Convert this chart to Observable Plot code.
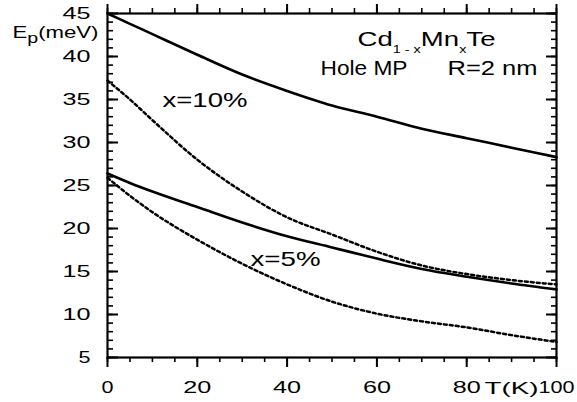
<!DOCTYPE html>
<html>
<head>
<meta charset="utf-8">
<script src="https://cdn.jsdelivr.net/npm/d3@7"></script>
<script src="https://cdn.jsdelivr.net/npm/@observablehq/plot@0.6"></script>
<style>
  html, body { margin: 0; padding: 0; background: #fff; overflow: hidden; }
</style>
</head>
<body>
<div id="chart"></div>
<script>
// Temperature (K)
const T = [0, 5, 10, 20, 30, 40, 50, 60, 70, 80, 90, 100];
// Ep (meV)
const solid10  = [45.0, 43.8, 42.6, 40.2, 37.9, 36.0, 34.3, 33.0, 31.6, 30.5, 29.4, 28.3];
const dotted10 = [37.2, 35.0, 32.6, 28.0, 24.3, 21.3, 19.3, 17.3, 15.7, 14.7, 14.0, 13.5];
const solid5   = [26.4, 25.3, 24.3, 22.5, 20.7, 19.1, 17.8, 16.5, 15.3, 14.4, 13.6, 12.9];
const dotted5  = [25.9, 23.8, 21.9, 18.7, 15.9, 13.5, 11.5, 10.1, 9.2, 8.5, 7.6, 6.8];

const xMajor = [0, 20, 40, 60, 80, 100];
const xMinor = d3.range(0, 101, 5);
const yMajor = [5, 10, 15, 20, 25, 30, 35, 40, 45];
const yMinor = d3.range(5, 46, 1);

const yLabel = "Ep(meV)";
const xLabel = "T(K)";
const titleText = "Cd1-xMnxTe";
const subText1 = "Hole MP";
const subText2 = "R=2 nm";
const curveLabel10 = "x=10%";
const curveLabel5 = "x=5%";

const toRows = (vals) => T.map((t, i) => ({T: t, E: vals[i]}));

const W = 577, H = 402, ML = 107, MR = 21, MT = 13, MB = 45;
const FW = W - ML - MR, FH = H - MT - MB; // frame size

const ann = (txt, cls, dx, dy, fontSize, anchor = "top-left") =>
  Plot.text([txt], {text: d => d, frameAnchor: anchor, dx, dy, textAnchor: "start",
    lineAnchor: "bottom", fontSize, className: cls, fill: "black"});

// tick helpers (outward for x, inward for y, as in the reference)
const tickBottom = (vals, len, sw) => Plot.tickX(vals, {x: d => d, insetTop: FH, insetBottom: -len, stroke: "black", strokeWidth: sw});
const tickTop = (vals, len, sw) => Plot.tickX(vals, {x: d => d, insetTop: -len, insetBottom: FH, stroke: "black", strokeWidth: sw});
const tickLeft = (vals, len, sw) => Plot.tickY(vals, {y: d => d, insetRight: FW - len, stroke: "black", strokeWidth: sw});
const tickRight = (vals, len, sw) => Plot.tickY(vals, {y: d => d, insetLeft: FW - len, stroke: "black", strokeWidth: sw});

const chart = Plot.plot({
  width: W,
  height: H,
  marginLeft: ML,
  marginRight: MR,
  marginTop: MT,
  marginBottom: MB,
  style: {fontFamily: "'Liberation Sans', Arial, sans-serif", fontSize: "17px", background: "#fff", color: "#000"},
  x: {domain: [0, 100]},
  y: {domain: [5, 45]},
  marks: [
    // tick labels
    Plot.axisX({anchor: "bottom", ticks: xMajor, tickSize: 0, tickPadding: 23, tickFormat: "d", label: null, className: "xlab"}),
    Plot.axisY({anchor: "left", ticks: yMajor, tickSize: 0, tickPadding: 17, tickFormat: "d", label: null, className: "ylab"}),
    // tick marks
    tickBottom(xMajor, 10, 2),
    tickBottom(xMinor, 5, 1.6),
    tickTop(xMajor, 9, 2),
    tickTop(xMinor, 5, 1.6),
    tickLeft(yMajor, 11, 2),
    tickLeft(yMinor, 6, 1.6),
    tickRight(yMajor, 10, 2),
    tickRight(yMinor, 5, 1.6),
    Plot.frame({stroke: "black", strokeWidth: 2.2}),
    // curves
    Plot.line(toRows(solid10), {x: "T", y: "E", stroke: "black", strokeWidth: 2.6, curve: "monotone-x"}),
    Plot.line(toRows(solid5), {x: "T", y: "E", stroke: "black", strokeWidth: 2.6, curve: "monotone-x"}),
    Plot.line(toRows(dotted10), {x: "T", y: "E", stroke: "black", strokeWidth: 2.5, strokeDasharray: "3,3", curve: "monotone-x"}),
    Plot.line(toRows(dotted5), {x: "T", y: "E", stroke: "black", strokeWidth: 2.5, strokeDasharray: "3,3", curve: "monotone-x"}),
    // annotations
    ann(titleText, "ann-title", 250, 32, 21),
    ann(subText1, "ann-sub1", 213, 61, 21),
    ann(subText2, "ann-sub2", 340, 61, 21),
    ann(curveLabel10, "ann-c10", 55, 93, 21),
    ann(curveLabel5, "ann-c5", 143, 252, 21),
    ann(yLabel, "ann-ylab", -95, 24, 17),
    ann(xLabel, "ann-xlab", -72, 36, 17, "bottom-right")
  ]
});

document.getElementById("chart").appendChild(chart);

// stretch glyphs like the reference's wide lettering
const stretch = (el, len) => { if (el) { el.setAttribute("textLength", len); el.setAttribute("lengthAdjust", "spacingAndGlyphs"); } };
const labelWidth = {1: 12, 2: 28, 3: 36};
chart.querySelectorAll("g.xlab text, g.ylab text").forEach(t => {
  const s = t.textContent.trim();
  if (s.length) stretch(t, labelWidth[s.length] || 13 * s.length);
});

const sel = (cls) => chart.querySelector("g." + cls + " text");
stretch(sel("ann-sub1"), 87);
stretch(sel("ann-sub2"), 90);
stretch(sel("ann-c10"), 85);
stretch(sel("ann-c5"), 70);
stretch(sel("ann-xlab"), 54);

// subscripted texts
function subscript(el, parts, len, drop) {
  if (!el) return;
  const ns = "http://www.w3.org/2000/svg";
  el.textContent = "";
  let shift = 0;
  for (const [str, isSub, size] of parts) {
    const ts = document.createElementNS(ns, "tspan");
    const target = isSub ? drop : 0;
    ts.setAttribute("dy", target - shift);
    shift = target;
    if (size) ts.setAttribute("font-size", size);
    ts.textContent = str;
    el.appendChild(ts);
  }
  if (len) stretch(el, len);
}
subscript(sel("ann-title"), [["Cd", false], ["1 - x", true, 11], ["Mn", false], ["x", true, 11], ["Te", false]], 138, 7);
subscript(sel("ann-ylab"), [["E", false], ["p", true, 15], ["(meV)", false]], 86, 5);
</script>
</body>
</html>
